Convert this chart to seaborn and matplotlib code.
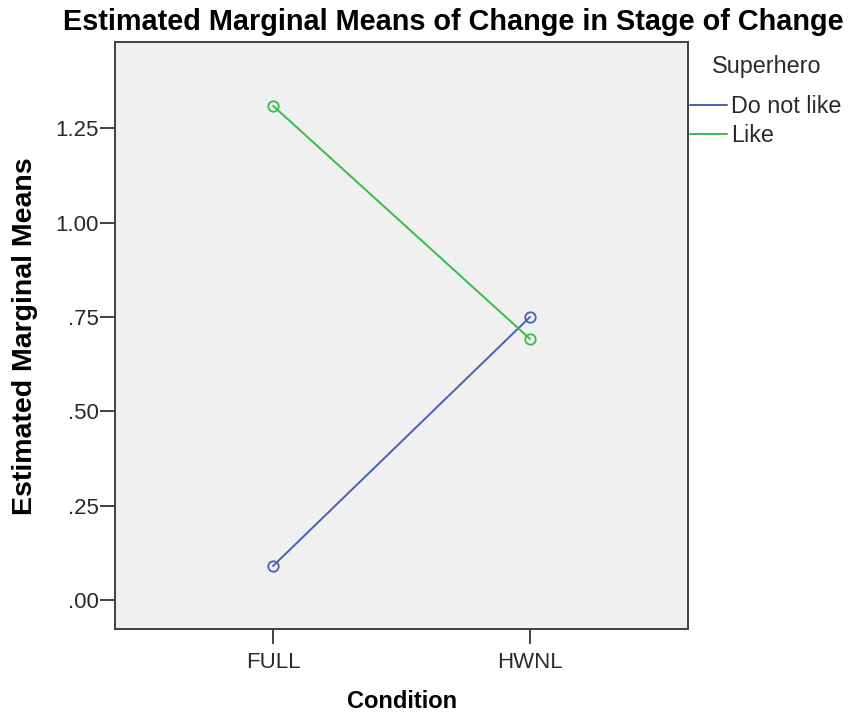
import matplotlib
matplotlib.use("Agg")
import matplotlib.pyplot as plt
import seaborn as sns
import pandas as pd
from matplotlib.lines import Line2D

conditions = ["FULL", "HWNL"]
groups = ["Do not like", "Like"]
means_do_not_like = [0.090, 0.750]
means_like = [1.310, 0.692]
y_ticks = [0.00, 0.25, 0.50, 0.75, 1.00, 1.25]
y_tick_labels = [".00", ".25", ".50", ".75", "1.00", "1.25"]

df = pd.DataFrame({
    "Condition": conditions * 2,
    "Superhero": [groups[0]] * 2 + [groups[1]] * 2,
    "Mean": means_do_not_like + means_like,
})

sns.set_theme(style="white")
plt.rcParams["font.family"] = ["Liberation Sans", "DejaVu Sans"]

colors = {"Do not like": "#4760B8", "Like": "#33BE4B"}

W, H = 848, 717
fig = plt.figure(figsize=(W / 100, H / 100), dpi=100)
ax = fig.add_axes([115 / W, 1 - 629 / H, (688 - 115) / W, (629 - 42) / H])
ax.set_facecolor("#F0F0F0")

sns.lineplot(data=df, x="Condition", y="Mean", hue="Superhero", palette=colors,
             marker="o", markersize=7.5, markerfacecolor="none", markeredgewidth=1.3,
             linewidth=1.4, ax=ax, legend=False, sort=False)
for ln in ax.lines:
    ln.set_markeredgecolor(ln.get_color())

ax.set_xlim(-0.615, 1.615)
ax.set_ylim(-0.077, 1.479)
ax.set_yticks(y_ticks)
ax.set_yticklabels(y_tick_labels)
ax.set_xticks([0, 1])
ax.set_xticklabels(conditions)

for s in ax.spines.values():
    s.set_color("#404040")
    s.set_linewidth(1.4)
ax.tick_params(axis="both", direction="out", length=10.5, width=1.4, color="#404040",
               labelsize=16, labelcolor="#2A2A2A", left=True, bottom=True)
ax.tick_params(axis="y", pad=1)
ax.tick_params(axis="x", pad=6)

ax.set_xlabel("")
ax.set_ylabel("")
fig.text(402 / W, 1 - 702 / H, "Condition", ha="center", va="center",
         fontsize=17, fontweight="bold", color="black")
fig.text(25 / W, 1 - 336 / H, "Estimated Marginal Means", ha="center", va="center",
         rotation=90, fontsize=20.5, fontweight="bold", color="black")
fig.text(453 / W, 1 - 22 / H, "Estimated Marginal Means of Change in Stage of Change",
         ha="center", va="center", fontsize=20.8, fontweight="bold", color="black")

# legend drawn to the right of the plot frame
fig.text(712 / W, 1 - 66 / H, "Superhero", ha="left", va="center",
         fontsize=16.8, color="#2A2A2A")
handles = [Line2D([0], [0], color=colors[g], lw=1.4) for g in groups]
leg = ax.legend(handles, groups, loc="upper left",
                bbox_to_anchor=(690 / W, 1 - 95 / H), bbox_transform=fig.transFigure,
                frameon=False, fontsize=16.8, handlelength=1.6, handletextpad=0.15,
                borderaxespad=0.0, labelspacing=0.25, borderpad=0.0)
for t in leg.get_texts():
    t.set_color("#2A2A2A")

fig.savefig("out.png", dpi=100, facecolor="white")
